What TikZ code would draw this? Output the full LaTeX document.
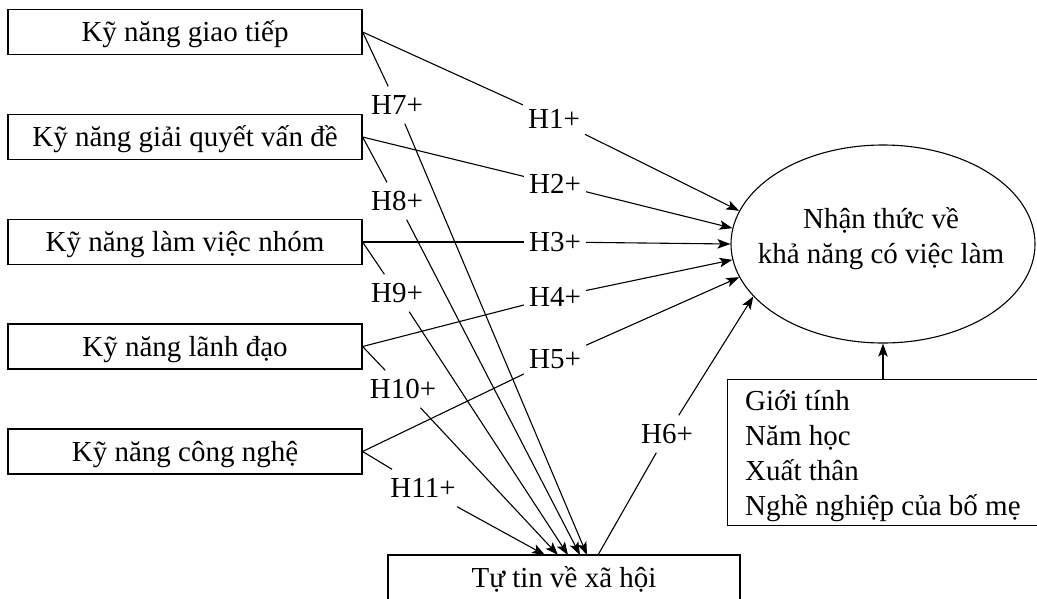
\documentclass[tikz,border=0pt]{standalone}
\usepackage{fontspec}
\setmainfont{Liberation Serif}
\usetikzlibrary{arrows.meta,shapes.geometric}
\begin{document}
\begin{tikzpicture}[x=1pt,y=-1pt,
  every node/.style={font=\fontsize{29}{35}\selectfont},
  box/.style={draw, line width=1.2pt, minimum width=354pt, minimum height=45pt, inner sep=0pt, text height=19pt, text depth=0pt},
  hyp/.style={inner xsep=5pt, inner ysep=9pt, text height=19pt, text depth=0pt},
  plain/.style={inner sep=0pt},
  con/.style={line width=1.1pt},
  arr/.style={con, -{Stealth[length=13pt,width=9.5pt,inset=3pt]}},
  ]
\useasboundingbox (0,0) rectangle (1037,598);
% left boxes
\node[box] (b1) at (185,32) {Kỹ năng giao tiếp};
\node[box] (b2) at (185,137) {Kỹ năng giải quyết vấn đề};
\node[box] (b3) at (185,242) {Kỹ năng làm việc nhóm};
\node[box] (b4) at (185,346.5) {Kỹ năng lãnh đạo};
\node[box] (b5) at (185,451.5) {Kỹ năng công nghệ};
% bottom box
\node[box, minimum width=352pt] (bt) at (564,577.5) {Tự tin về xã hội};
% ellipse
\node[draw, ellipse, line width=1.1pt, minimum width=304pt, minimum height=198pt, inner sep=0pt] (ell) at (883,244) {};
\node[anchor=base] (e1) at (881,228) {Nhận thức về};
\node[anchor=base] (e2) at (881,263) {khả năng có việc làm};
% control box
\node[draw, line width=1.2pt, anchor=north west, minimum width=320pt, minimum height=146pt, inner sep=0pt] (ctl) at (727,379) {};
\node[plain, anchor=base west] (c1) at (745,410) {Giới tính};
\node[plain, anchor=base west] (c2) at (745,445) {Năm học};
\node[plain, anchor=base west] (c3) at (745,480) {Xuất thân};
\node[plain, anchor=base west] (c4) at (745,515) {Nghề nghiệp của bố mẹ};
% hypothesis labels
\node[hyp] (h1) at (554,119) {H1+};
\node[hyp] (h2) at (555,184) {H2+};
\node[hyp] (h3) at (555,242) {H3+};
\node[hyp] (h4) at (555,297) {H4+};
\node[hyp] (h5) at (555,359) {H5+};
\node[hyp] (h6) at (667,434) {H6+};
\node[hyp] (h7) at (397,105) {H7+};
\node[hyp] (h8) at (397,201) {H8+};
\node[hyp] (h9) at (397,293) {H9+};
\node[hyp] (h10) at (403,389) {H10+};
\node[hyp] (h11) at (423,488) {H11+};
% end points on the bottom box
\coordinate (k7) at (587,555);
\coordinate (k8) at (580,555);
\coordinate (k9) at (568,555);
\coordinate (k10) at (558,555);
\coordinate (k11) at (545,555);
\coordinate (s6) at (598,555);
% connectors to ellipse
\draw[con] (b1.east) -- (h1); \draw[arr] (h1) -- (ell.167);
\draw[con] (b2.east) -- (h2); \draw[arr] (h2) -- (ell.174);
\draw[con] (b3.east) -- (h3); \draw[arr] (h3) -- (ell.180);
\draw[con] (b4.east) -- (h4); \draw[arr] (h4) -- (ell.186);
\draw[con] (b5.east) -- (h5); \draw[arr] (h5) -- (ell.193);
\draw[con] (s6) -- (h6); \draw[arr] (h6) -- (ell.202);
% connectors to bottom box
\draw[con] (b1.east) -- (h7); \draw[arr] (h7) -- (k7);
\draw[con] (b2.east) -- (h8); \draw[arr] (h8) -- (k8);
\draw[con] (b3.east) -- (h9); \draw[arr] (h9) -- (k9);
\draw[con] (b4.east) -- (h10); \draw[arr] (h10) -- (k10);
\draw[con] (b5.east) -- (h11); \draw[arr] (h11) -- (k11);
% control arrow
\draw[arr] (ctl.north -| ell.south) -- (ell.south);
\end{tikzpicture}
\end{document}
